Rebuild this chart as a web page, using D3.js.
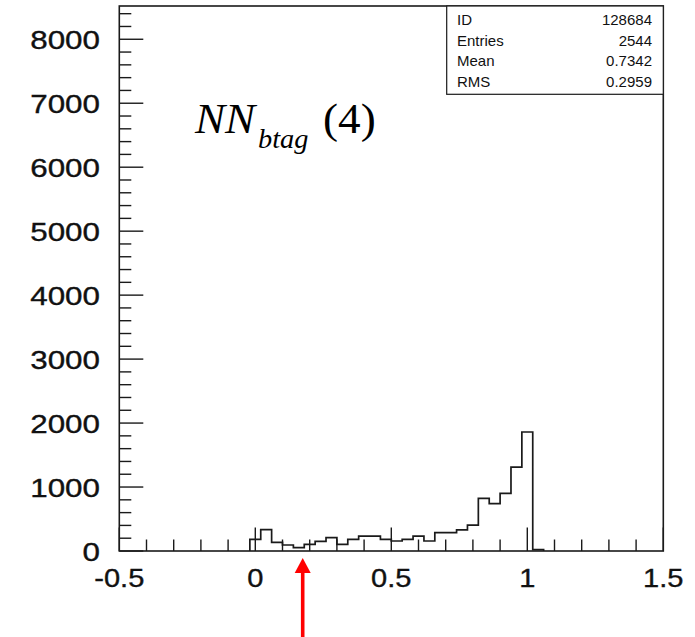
<!DOCTYPE html>
<html>
<head>
<meta charset="utf-8">
<script src="https://cdn.jsdelivr.net/npm/d3@7"></script>
<style>
  html, body { margin: 0; padding: 0; background: #fff; }
  svg { display: block; }
  .tick-label { font-family: "Liberation Sans", Arial, sans-serif; font-size: 25.5px; fill: #111; stroke: #111; stroke-width: 0.35px; }
  .stats text { font-family: "Liberation Sans", Arial, sans-serif; font-size: 15px; fill: #111; }
  .title { font-family: "Liberation Serif", "Times New Roman", serif; fill: #000; }
</style>
</head>
<body>
<div id="chart"></div>
<script>
// histogram bins (low edge) and contents
const binLow = [-0.02, 0.02, 0.06, 0.10, 0.14, 0.18, 0.22, 0.26, 0.30, 0.34,
                0.38, 0.42, 0.46, 0.50, 0.54, 0.58, 0.62, 0.66, 0.70, 0.74,
                0.78, 0.82, 0.86, 0.90, 0.94, 0.98, 1.02];
const binWidth = 0.04;
const counts = [183, 335, 136, 94, 52, 105, 152, 208, 105, 183,
                232, 232, 183, 156, 183, 232, 156, 286, 286, 330,
                406, 823, 742, 900, 1310, 1860, 22];

const xTicksMajor = [-0.5, 0, 0.5, 1, 1.5];
const xTickLabels = ["-0.5", "0", "0.5", "1", "1.5"];
const yTicksMajor = [0, 1000, 2000, 3000, 4000, 5000, 6000, 7000, 8000];

const statNames = ["ID", "Entries", "Mean", "RMS"];
const statValues = ["128684", "2544", "0.7342", "0.2959"];

const W = 695, H = 637;
const frame = { left: 119.3, right: 663.3, top: 6, bottom: 551 };

const svg = d3.select("#chart").append("svg")
    .attr("width", W)
    .attr("height", H);

svg.append("rect").attr("width", W).attr("height", H).attr("fill", "#fff");

const x = d3.scaleLinear().domain([-0.5, 1.5]).range([frame.left, frame.right]);
const y = d3.scaleLinear().domain([0, 8520]).range([frame.bottom, frame.top]);

// ──── histogram outline ────
const pts = [];
binLow.forEach((lo, i) => {
    pts.push([x(lo), y(counts[i])]);
    pts.push([x(lo + binWidth), y(counts[i])]);
});
pts.unshift([x(binLow[0]), y(0)]);
pts.push([x(binLow[binLow.length - 1] + binWidth), y(0)]);

svg.append("path")
    .attr("d", d3.line()(pts))
    .attr("fill", "none")
    .attr("stroke", "#1a1a1a")
    .attr("stroke-width", 1.7);

// ──── ticks ────
const xMinor = d3.range(-5, 16).map(v => v / 10);
svg.append("g").selectAll("line")
    .data(xMinor)
    .join("line")
    .attr("x1", d => x(d)).attr("x2", d => x(d))
    .attr("y1", frame.bottom)
    .attr("y2", d => frame.bottom - (xTicksMajor.some(m => Math.abs(m - d) < 1e-9) ? 23.5 : 11.5))
    .attr("stroke", "#1a1a1a")
    .attr("stroke-width", 1.4);

const yMinor = d3.range(0, 8600, 200).filter(v => v <= 8520);
svg.append("g").selectAll("line")
    .data(yMinor)
    .join("line")
    .attr("y1", d => y(d)).attr("y2", d => y(d))
    .attr("x1", frame.left)
    .attr("x2", d => frame.left + (d % 1000 === 0 ? 24 : 12))
    .attr("stroke", "#1a1a1a")
    .attr("stroke-width", 1.4);

// frame
svg.append("rect")
    .attr("x", frame.left).attr("y", frame.top)
    .attr("width", frame.right - frame.left)
    .attr("height", frame.bottom - frame.top)
    .attr("fill", "none")
    .attr("stroke", "#1a1a1a")
    .attr("stroke-width", 1.6);

// ──── tick labels ────
svg.append("g").selectAll("text")
    .data(xTicksMajor)
    .join("text")
    .attr("class", "tick-label")
    .attr("text-anchor", "middle")
    .attr("transform", d => `translate(${x(d)},587) scale(1.14,1)`)
    .text((d, i) => xTickLabels[i]);

svg.append("g").selectAll("text")
    .data(yTicksMajor)
    .join("text")
    .attr("class", "tick-label")
    .attr("text-anchor", "end")
    .attr("transform", d => `translate(100,${y(d) + 10}) scale(1.23,1)`)
    .text(d => d);

// ──── stats box ────
const stats = svg.append("g").attr("class", "stats");
stats.append("rect")
    .attr("x", 446.7).attr("y", 6)
    .attr("width", frame.right - 446.7).attr("height", 88.3)
    .attr("fill", "#fff")
    .attr("stroke", "#1a1a1a")
    .attr("stroke-width", 1.2);

statNames.forEach((name, i) => {
    stats.append("text")
        .attr("x", 457).attr("y", 25 + i * 20.6)
        .text(name);
    stats.append("text")
        .attr("x", 652).attr("y", 25 + i * 20.6)
        .attr("text-anchor", "end")
        .text(statValues[i]);
});

// ──── title NN_btag (4) ────
const title = svg.append("g").attr("class", "title")
    .attr("transform", "translate(195,133.3) scale(1.05,1)");
title.append("text")
    .attr("font-size", 43).attr("font-style", "italic")
    .text("NN");
title.append("text")
    .attr("x", 60).attr("y", 15)
    .attr("font-size", 27).attr("font-style", "italic")
    .text("btag");
title.append("text")
    .attr("x", 122).attr("y", 0)
    .attr("font-size", 43)
    .text("(4)");

// ──── red arrow ────
const ax = 302.7;
svg.append("line")
    .attr("x1", ax).attr("x2", ax)
    .attr("y1", 570).attr("y2", 637)
    .attr("stroke", "#ff0000")
    .attr("stroke-width", 3.6);
svg.append("path")
    .attr("d", `M${ax},558 L${ax - 8},573 L${ax + 8},573 Z`)
    .attr("fill", "#ff0000");
</script>
</body>
</html>
